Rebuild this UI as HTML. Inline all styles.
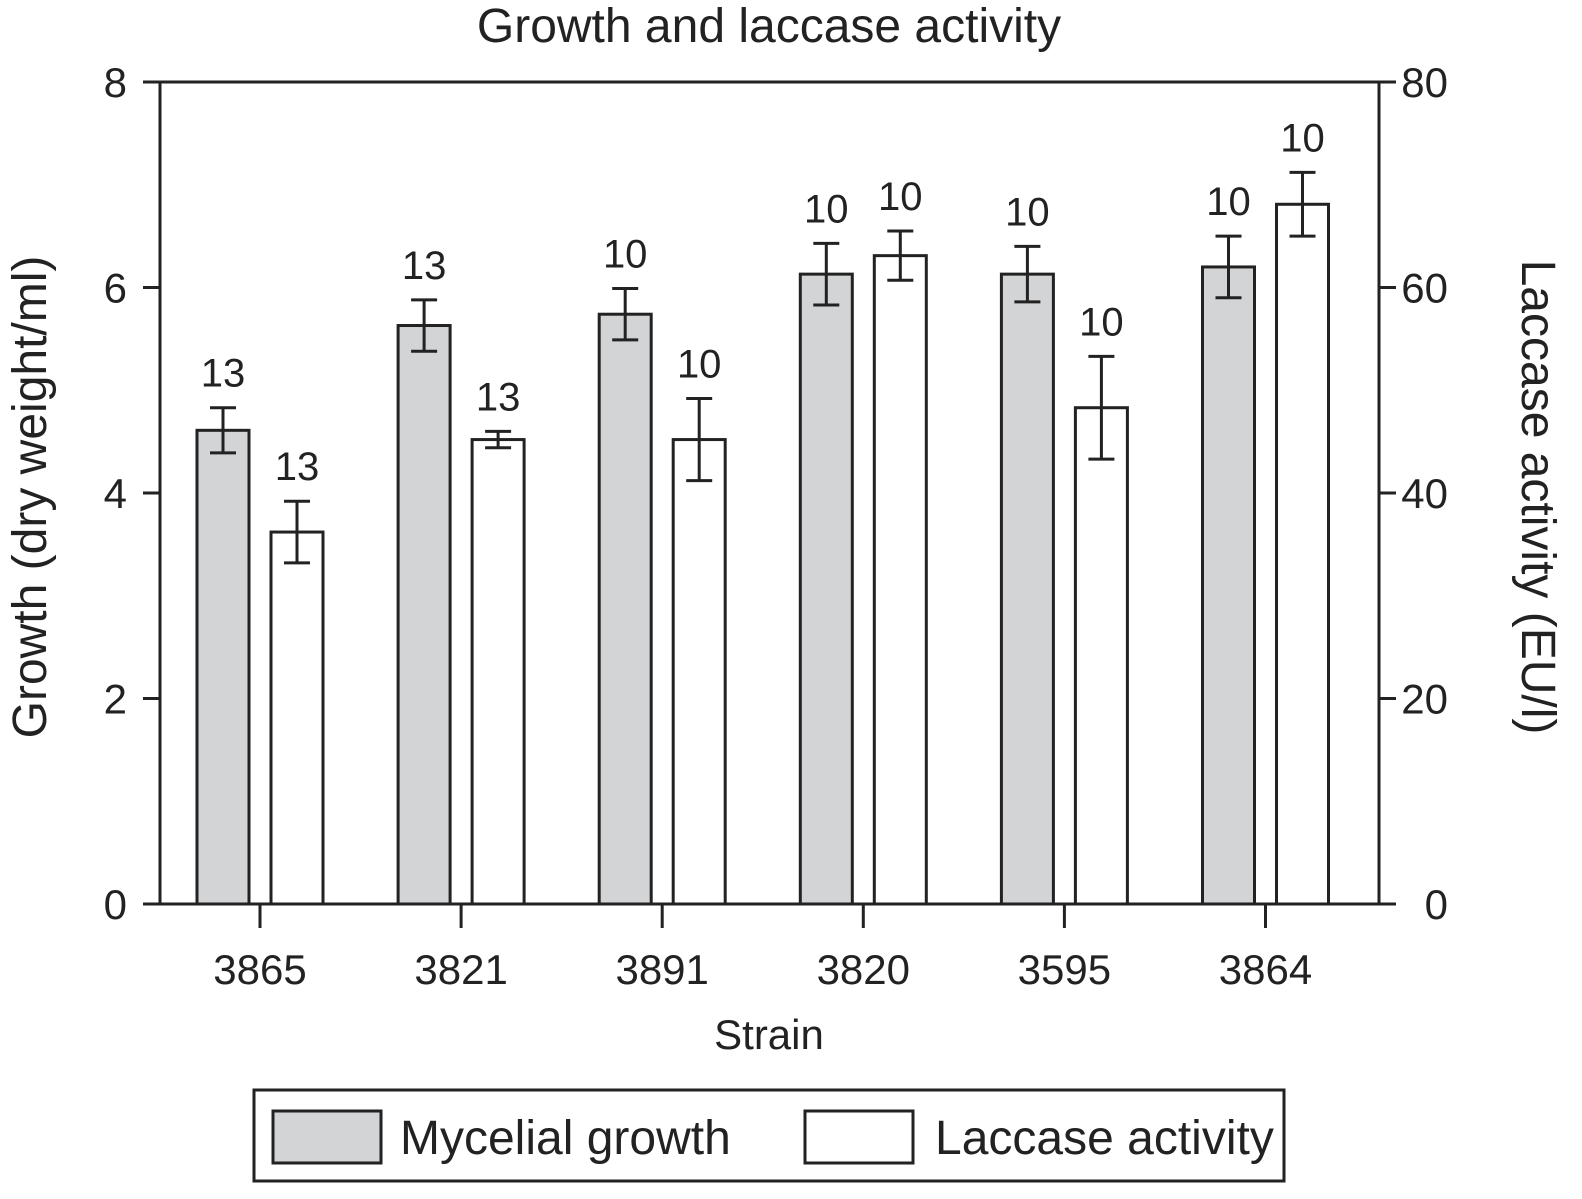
<!DOCTYPE html>
<html><head><meta charset="utf-8"><style>
body{margin:0;background:#fff}
text{font-family:"Liberation Sans",Arial,sans-serif;fill:#222}
</style></head><body>
<svg id="c" width="1582" height="1194" viewBox="0 0 1582 1194" xmlns="http://www.w3.org/2000/svg">
<text x="769" y="42" font-size="48" text-anchor="middle">Growth and laccase activity</text>
<text transform="translate(46,497) rotate(-90)" font-size="48" text-anchor="middle">Growth (dry weight/ml)</text>
<text transform="translate(1522,497) rotate(90)" font-size="48" text-anchor="middle">Laccase activity (EU/l)</text>
<text x="769" y="1049" font-size="42" text-anchor="middle">Strain</text>
<g id="plot"></g>
<g>
<rect x="254" y="1090" width="1030" height="91" fill="#fff" stroke="#222" stroke-width="3"/>
<rect x="273" y="1111" width="108" height="52" fill="#d3d4d6" stroke="#222" stroke-width="3"/>
<text x="400" y="1154" font-size="48">Mycelial growth</text>
<rect x="805" y="1111" width="108" height="52" fill="#fff" stroke="#222" stroke-width="3"/>
<text x="935" y="1154" font-size="48">Laccase activity</text>
</g>
</svg>
<script>
const strains=["3865","3821","3891","3820","3595","3864"];
const growth=[4.61,5.63,5.74,6.13,6.13,6.2];
const growthErr=[0.22,0.25,0.25,0.3,0.27,0.3];
const growthN=["13","13","10","10","10","10"];
const laccase=[36.2,45.2,45.2,63.1,48.3,68.1];
const laccaseErr=[3.0,0.8,4.0,2.4,5.0,3.1];
const laccaseN=["13","13","10","10","10","10"];
const leftTicks=[0,2,4,6,8];
const rightTicks=[0,20,40,60,80];

const NS="http://www.w3.org/2000/svg";
const g=document.getElementById('plot');
const X0=160,X1=1379,Y0=904,Y1=82;
const yL=v=>Y0-(v/8)*(Y0-Y1);
const yR=v=>Y0-(v/80)*(Y0-Y1);
const gc=i=>260+i*201.1;
function mk(t,a){const e=document.createElementNS(NS,t);for(const k in a)e.setAttribute(k,a[k]);g.appendChild(e);return e;}
let e;
e=mk('rect',{x:X0,y:Y1,width:X1-X0,height:Y0-Y1,fill:'none',stroke:'#222','stroke-width':3});


leftTicks.forEach(v=>{
 e=mk('line',{x1:X0-17,x2:X0,y1:yL(v),y2:yL(v),stroke:'#222','stroke-width':3});
 
 
 e=mk('text',{x:X0-33,y:yL(v)+15,'font-size':42,'text-anchor':'end'});e.textContent=v;
 
 
});
rightTicks.forEach(v=>{
 e=mk('line',{x1:X1,x2:X1+17,y1:yR(v),y2:yR(v),stroke:'#222','stroke-width':3});
 
 
 e=mk('text',{x:1448,y:yR(v)+15,'font-size':42,'text-anchor':'end'});e.textContent=v;
 
 
});
function bar(cx,top,lo,hi,fill,n,name){
 e=mk('rect',{x:cx-26,y:top,width:52,height:Y0-top,fill:fill,stroke:'#222','stroke-width':3});
 
 
 e=mk('path',{d:`M${cx} ${hi}V${lo}M${cx-13} ${hi}H${cx+13}M${cx-13} ${lo}H${cx+13}`,stroke:'#222','stroke-width':3,fill:'none'});
 
 
 e=mk('text',{x:cx,y:hi-21,'font-size':40,'text-anchor':'middle'});e.textContent=n;
 
 
}
strains.forEach((s,i)=>{
 const c=gc(i);
 bar(c-37,yL(growth[i]),yL(growth[i]-growthErr[i]),yL(growth[i]+growthErr[i]),'#d3d4d6',growthN[i],'growth');
 bar(c+37,yR(laccase[i]),yR(laccase[i]-laccaseErr[i]),yR(laccase[i]+laccaseErr[i]),'#fff',laccaseN[i],'laccase');
 e=mk('line',{x1:c,x2:c,y1:Y0,y2:Y0+24,stroke:'#222','stroke-width':3});
 
 
 e=mk('text',{x:c,y:984,'font-size':42,'text-anchor':'middle'});e.textContent=s;
 
 
});
</script>
</body></html>
